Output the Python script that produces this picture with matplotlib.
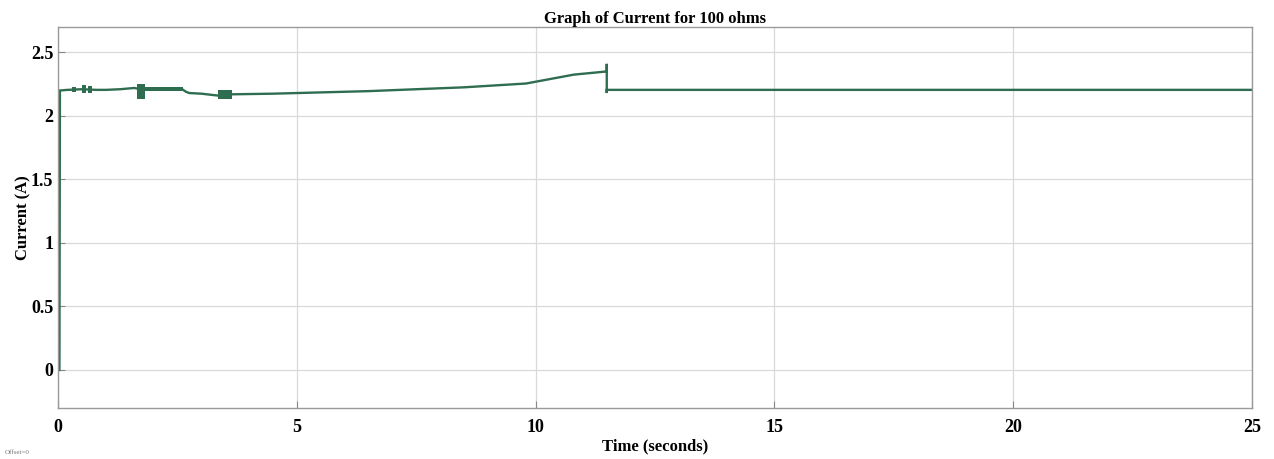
import matplotlib.pyplot as plt

# current trace (seconds, amps)
time_s = [0.0, 0.03, 0.04, 0.2, 0.5, 0.8, 1.0, 1.3, 1.6, 1.66, 1.7, 2.6, 2.68, 2.75,
          3.0, 3.35, 3.65, 4.5, 5.5, 6.5, 7.5, 8.5, 9.8, 10.3, 10.8, 11.49,
          11.49, 11.49, 11.49, 25.0]
current_a = [0.0, 0.0, 2.20, 2.205, 2.21, 2.205, 2.205, 2.21, 2.22, 2.215, 2.21, 2.21, 2.19, 2.18,
             2.175, 2.16, 2.17, 2.175, 2.185, 2.195, 2.21, 2.225, 2.255, 2.29, 2.325, 2.35,
             2.41, 2.18, 2.205, 2.205]

# thick oscillation blocks: start, end, low, high
band_start = [0.3, 0.5, 0.62, 1.66, 1.82, 3.35]
band_end = [0.38, 0.58, 0.72, 1.82, 2.62, 3.65]
band_low = [2.19, 2.18, 2.18, 2.13, 2.195, 2.13]
band_high = [2.23, 2.24, 2.235, 2.25, 2.225, 2.2]

x_ticks = [0, 5, 10, 15, 20, 25]
y_ticks = [0, 0.5, 1, 1.5, 2, 2.5]

LINE = "#2f6d50"

plt.rcParams["font.family"] = ["Liberation Serif", "DejaVu Serif"]

fig = plt.figure(figsize=(12.74, 4.59), dpi=100)
ax = fig.add_axes([58 / 1274, 1 - 408 / 459, (1252 - 58) / 1274, (408 - 27) / 459])

ax.plot(time_s, current_a, color=LINE, linewidth=1.7, solid_joinstyle="miter")
for t0, t1, lo, hi in zip(band_start, band_end, band_low, band_high):
    ax.fill_between([t0, t1], [lo, lo], [hi, hi], color=LINE, linewidth=0)

ax.set_xlim(0, 25)
ax.set_ylim(-0.3, 2.7)
ax.set_xticks(x_ticks)
ax.set_yticks(y_ticks)
ax.set_xticklabels([str(v) for v in x_ticks])
ax.set_yticklabels(["0", "0.5", "1", "1.5", "2", "2.5"])
ax.tick_params(direction="in", length=5, color="#888888", labelsize=13)
ax.tick_params(axis="x", pad=8)
ax.tick_params(axis="y", pad=3.5)
for lab in ax.get_xticklabels() + ax.get_yticklabels():
    lab.set_fontweight("bold")
ax.grid(True, color="#d9d9d9", linewidth=0.9)
for sp in ax.spines.values():
    sp.set_color("#9a9a9a")
    sp.set_linewidth(1.0)

ax.set_title("Graph of Current for 100 ohms", fontsize=12, fontweight="bold", pad=3)
ax.set_xlabel("Time (seconds)", fontsize=12, fontweight="bold", labelpad=2)
ax.set_ylabel("Current (A)", fontsize=12, fontweight="bold")
ax.yaxis.set_label_coords(-0.022, 0.5)

fig.text(5 / 1274, 1 - 453 / 459, "Offset=0", fontsize=5, color="#777777", va="center")

fig.savefig("out.png", dpi=100)
